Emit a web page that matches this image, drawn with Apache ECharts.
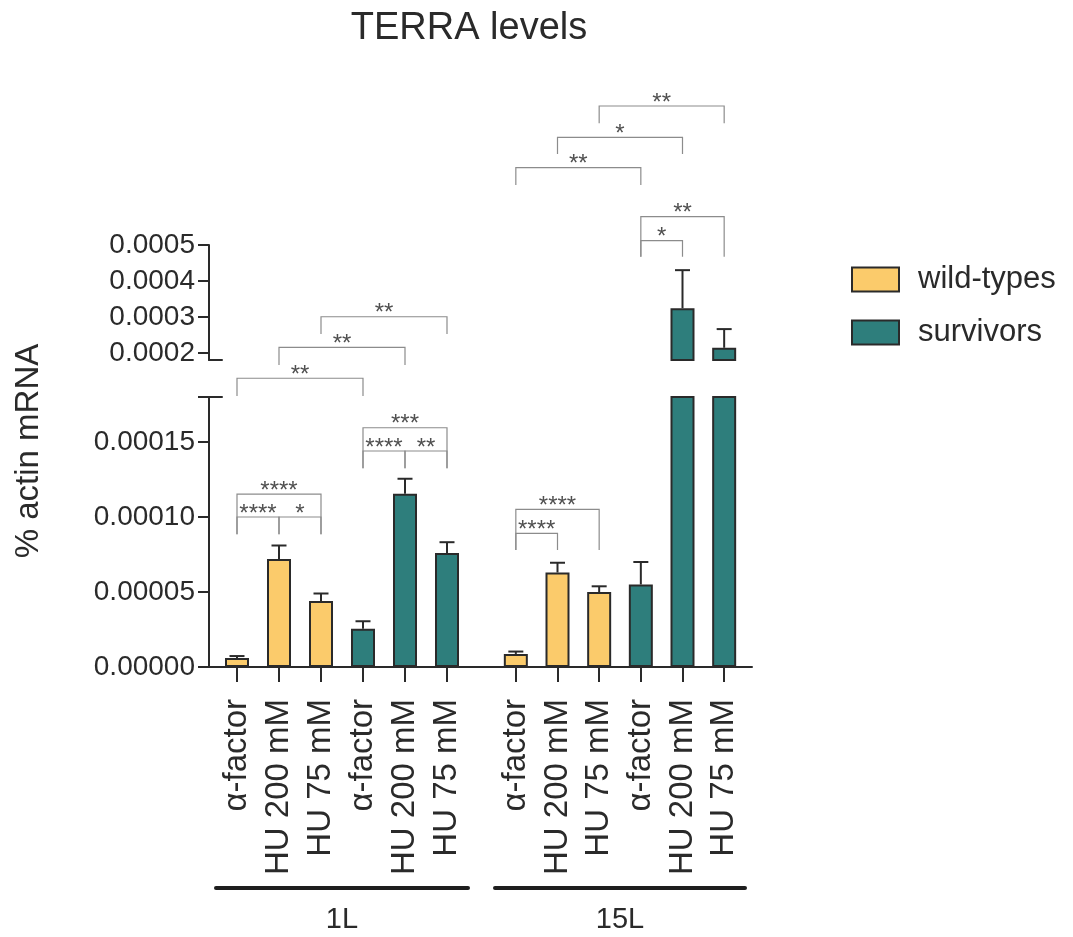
<!DOCTYPE html>
<html><head><meta charset="utf-8">
<script src="https://cdn.jsdelivr.net/npm/echarts@6/dist/echarts.min.js"></script>
<style>html,body{margin:0;padding:0;background:#fff}#c{width:1073px;height:937px}</style>
</head><body><div id="c"></div>
<script>
// ---------- data ----------
const TITLE = 'TERRA levels';
const Y_NAME = '% actin mRNA';
const CATEGORIES = ['α-factor', 'HU 200 mM', 'HU 75 mM', 'α-factor', 'HU 200 mM', 'HU 75 mM'];
const SERIES_NAMES = ['wild-types', 'survivors'];
const GENOTYPE = [0, 0, 0, 1, 1, 1];          // index into SERIES_NAMES per category
const GROUPS = ['1L', '15L'];
const MEAN_1L  = [0.0000060, 0.0000720, 0.0000440, 0.0000255, 0.0001155, 0.0000760];
const ERR_1L   = [0.0000013, 0.0000090, 0.0000050, 0.0000050, 0.0000100, 0.0000072];
const MEAN_15L = [0.0000087, 0.0000630, 0.0000500, 0.0000550, 0.0003240, 0.0002140];
const ERR_15L  = [0.0000016, 0.0000065, 0.0000038, 0.0000150, 0.0001060, 0.0000520];
const LOWER_RANGE = [0, 0.00018];
const UPPER_RANGE = [0.00018, 0.0005];
const LOWER_TICKS = [0, 0.00005, 0.0001, 0.00015];
const UPPER_TICKS = [0.0002, 0.0003, 0.0004, 0.0005];
// significance brackets: [from category, to category, bar level, arm end, label]
const BRACKETS_1L = [
  [0, 1, 0.0001000, 0.0000885, '****'],
  [1, 2, 0.0001000, 0.0000885, '*'],
  [0, 2, 0.0001153, 0.0000885, '****'],
  [3, 4, 0.0001440, 0.0001325, '****'],
  [4, 5, 0.0001440, 0.0001325, '**'],
  [3, 5, 0.0001595, 0.0001325, '***'],
  [0, 3, 0.0001925, 0.0001807, '**'],
  [1, 4, 0.0002131, 0.0002013, '**'],
  [2, 5, 0.0002335, 0.0002220, '**']
];
const BRACKETS_15L = [
  [0, 1, 0.0000891, 0.0000780, '****'],
  [0, 2, 0.0001051, 0.0000780, '****'],
  [3, 4, 0.0002842, 0.0002735, '*'],
  [3, 5, 0.0003002, 0.0002735, '**'],
  [0, 3, 0.0003329, 0.0003213, '**'],
  [1, 4, 0.0003531, 0.0003420, '*'],
  [2, 5, 0.0003740, 0.0003625, '**']
];

// ---------- style ----------
const FONT = '"Liberation Sans", Arial, Helvetica, sans-serif';
const INK = '#2a2a2a';
const COLORS = ['#FBCB6B', '#2E7E7C'];
const BRACKET_COLOR = '#8c8c8c';
const STAR_COLOR = '#505050';

const chart = echarts.init(document.getElementById('c'), null, {renderer: 'canvas'});

const axisLineStyle = {color: INK, width: 2};
function lineOnlyX(gridIndex, position) {
  return {type: 'value', gridIndex, position, min: 0, max: 1,
    axisLine: {show: true, onZero: false, lineStyle: axisLineStyle},
    axisTick: {show: false}, axisLabel: {show: false}, splitLine: {show: false}};
}
function hiddenCat(gridIndex) {
  return {type: 'category', gridIndex, data: CATEGORIES, show: false,
    axisLine: {onZero: false}};
}
function labeledCat(gridIndex) {
  return {type: 'category', gridIndex, data: CATEGORIES, position: 'bottom',
    axisLine: {show: false, onZero: false},
    axisTick: {show: true, alignWithLabel: true, interval: 0, length: 15, lineStyle: axisLineStyle},
    axisLabel: {rotate: 90, interval: 0, fontSize: 33, color: INK, fontFamily: FONT, margin: 32}};
}
function groupCat(gridIndex, name) {
  return {type: 'category', gridIndex, data: CATEGORIES, position: 'bottom', offset: 221,
    axisLine: {show: true, onZero: false, lineStyle: {color: '#1e1e1e', width: 4}},
    axisTick: {show: false}, axisLabel: {show: false},
    name, nameLocation: 'middle', nameGap: 17,
    nameTextStyle: {fontSize: 29, color: INK, fontFamily: FONT}};
}
function hiddenY(gridIndex, range) {
  return {type: 'value', gridIndex, min: range[0], max: range[1], show: false,
    axisLine: {onZero: false}, splitLine: {show: false}};
}
function visibleY(gridIndex, range, tickVals, labelVals, digits) {
  return {type: 'value', gridIndex, min: range[0], max: range[1],
    axisLine: {show: true, onZero: false, lineStyle: axisLineStyle},
    axisTick: {show: true, length: 11, customValues: tickVals, lineStyle: axisLineStyle},
    axisLabel: {customValues: labelVals, formatter: v => Number(v).toFixed(digits),
      fontSize: 28, color: INK, fontFamily: FONT, margin: 14},
    splitLine: {show: false}};
}

function g(left, top, width, height) {
  return {left, top, width, height, containLabel: false, outerBoundsMode: 'none'};
}
const grid = [
  g(209, 245, 13, 115),   // 0 upper axis
  g(216, 245, 252, 115),  // 1 upper 1L
  g(495, 245, 250, 115),  // 2 upper 15L
  g(209, 397, 543, 270),  // 3 lower axis
  g(216, 397, 252, 270),  // 4 lower 1L
  g(495, 397, 250, 270),  // 5 lower 15L
  g(209, 397, 13, 1)      // 6 lower break cap
];

const xAxis = [
  lineOnlyX(0, 'bottom'),   // 0
  hiddenCat(1),             // 1
  hiddenCat(2),             // 2
  lineOnlyX(3, 'bottom'),   // 3
  labeledCat(4),            // 4
  labeledCat(5),            // 5
  groupCat(4, GROUPS[0]),   // 6
  groupCat(5, GROUPS[1]),   // 7
  lineOnlyX(6, 'top')       // 8
];
const yAxis = [
  visibleY(0, UPPER_RANGE, UPPER_TICKS, UPPER_TICKS, 4),
  hiddenY(1, UPPER_RANGE),
  hiddenY(2, UPPER_RANGE),
  visibleY(3, LOWER_RANGE, LOWER_TICKS.concat([LOWER_RANGE[1]]), LOWER_TICKS, 5),
  hiddenY(4, LOWER_RANGE),
  hiddenY(5, LOWER_RANGE),
  hiddenY(6, [0, 1])
];

function errRender(params, api) {
  const x = api.value(0), m = api.value(1), e = api.value(2);
  const p0 = api.coord([x, m]), p1 = api.coord([x, m + e]);
  const st = {stroke: INK, lineWidth: 2};
  return {type: 'group', children: [
    {type: 'line', shape: {x1: p0[0], y1: p0[1], x2: p1[0], y2: p1[1]}, style: st},
    {type: 'line', shape: {x1: p1[0] - 7.5, y1: p1[1], x2: p1[0] + 7.5, y2: p1[1]}, style: st}
  ]};
}
function bracketRender(list) {
  return function (params, api) {
    const b = list[params.dataIndex];
    const pa = api.coord([b[0], b[2]]), pb = api.coord([b[1], b[2]]);
    const yEnd = api.coord([b[0], b[3]])[1];
    return {type: 'group', children: [
      {type: 'polyline', shape: {points: [[pa[0], yEnd], [pa[0], pa[1]], [pb[0], pb[1]], [pb[0], yEnd]]},
        style: {stroke: BRACKET_COLOR, lineWidth: 1.2, fill: null}},
      {type: 'text', x: (pa[0] + pb[0]) / 2, y: pa[1] - 3,
        style: {text: b[4], fill: STAR_COLOR, fontSize: 24, fontFamily: FONT,
          align: 'center', verticalAlign: 'middle'}}
    ]};
  };
}

const series = [];
const groupDefs = [
  {mean: MEAN_1L, err: ERR_1L, up: 1, low: 4, br: BRACKETS_1L},
  {mean: MEAN_15L, err: ERR_15L, up: 2, low: 5, br: BRACKETS_15L}
];
groupDefs.forEach(gd => {
  SERIES_NAMES.forEach((name, s) => {
    const style = {color: COLORS[s], borderColor: INK, borderWidth: 2};
    series.push({type: 'bar', name, xAxisIndex: gd.low, yAxisIndex: gd.low, barWidth: 24, barGap: '-100%',
      itemStyle: style, data: gd.mean.map((v, i) => GENOTYPE[i] === s ? v : '-')});
    series.push({type: 'bar', name, xAxisIndex: gd.up, yAxisIndex: gd.up, barWidth: 24, barGap: '-100%',
      itemStyle: style, data: gd.mean.map((v, i) => (GENOTYPE[i] === s && v > UPPER_RANGE[0]) ? v : '-')});
  });
  const pts = gd.mean.map((v, i) => [i, v, gd.err[i]]);
  series.push({type: 'custom', xAxisIndex: gd.low, yAxisIndex: gd.low, z: 5, renderItem: errRender,
    data: pts.filter(d => d[1] + d[2] <= LOWER_RANGE[1])});
  series.push({type: 'custom', xAxisIndex: gd.up, yAxisIndex: gd.up, z: 5, renderItem: errRender,
    data: pts.filter(d => d[1] > UPPER_RANGE[0])});
  series.push({type: 'custom', xAxisIndex: gd.low, yAxisIndex: gd.low, z: 6, clip: false,
    encode: {x: 0, y: 2}, renderItem: bracketRender(gd.br),
    data: gd.br.map(b => [b[0], b[1], b[2], b[3]])});
});

chart.setOption({
  animation: false,
  backgroundColor: '#ffffff',
  textStyle: {fontFamily: FONT},
  title: {text: TITLE, left: 464, top: 5, textAlign: 'center',
    textStyle: {fontSize: 38, fontWeight: 'normal', color: INK, fontFamily: FONT}},
  legend: {data: SERIES_NAMES, orient: 'vertical', left: 846, top: 259, icon: 'rect',
    itemWidth: 47, itemHeight: 24, itemGap: 22, selectedMode: false,
    textStyle: {fontSize: 31, color: INK, fontFamily: FONT, padding: [0, 0, 0, 14]}},
  graphic: [{type: 'text', x: 29, y: 451, rotation: Math.PI / 2,
    style: {text: Y_NAME, fontSize: 33, fontFamily: FONT, fill: INK, align: 'center', verticalAlign: 'middle'}}],
  grid, xAxis, yAxis, series
});
</script></body></html>
